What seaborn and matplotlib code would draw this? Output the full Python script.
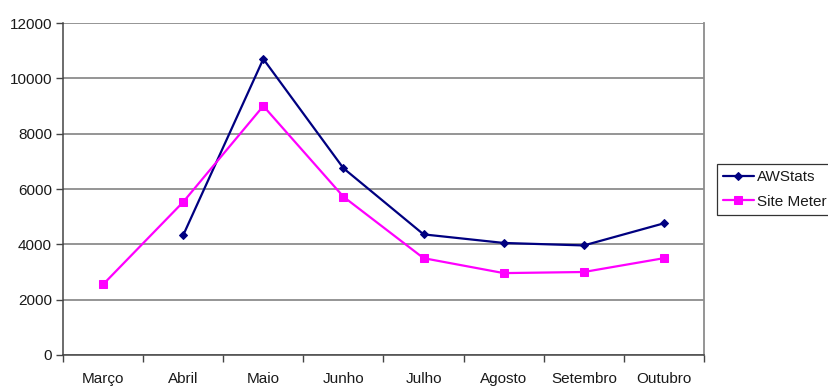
import matplotlib
matplotlib.use("Agg")
import matplotlib.pyplot as plt
from matplotlib.ticker import FixedLocator, NullFormatter
import seaborn as sns
import pandas as pd

months = ["Março", "Abril", "Maio", "Junho", "Julho", "Agosto", "Setembro", "Outubro"]
awstats = [None, 4330, 10700, 6750, 4360, 4050, 3960, 4760]
site_meter = [2550, 5530, 9000, 5720, 3500, 2960, 3000, 3500]
y_ticks = [0, 2000, 4000, 6000, 8000, 10000, 12000]

sns.set_theme(style="white")
plt.rcParams["font.family"] = ["Liberation Sans", "DejaVu Sans"]

df = pd.DataFrame({
    "mes": months * 2,
    "x": list(range(len(months))) * 2,
    "visitas": awstats + site_meter,
    "serie": ["AWStats"] * len(months) + ["Site Meter"] * len(months),
}).dropna()

fig = plt.figure(figsize=(8.29, 3.86), dpi=100)
ax = fig.add_axes([63 / 829, (386 - 355) / 386, 641 / 829, 332 / 386])

palette = {"AWStats": "#000080", "Site Meter": "#FF00FF"}
markers = {"AWStats": "D", "Site Meter": "s"}
sizes = {"AWStats": 4.5, "Site Meter": 5.3}
for name, grp in df.groupby("serie", sort=False):
    sns.lineplot(data=grp, x="x", y="visitas", ax=ax, color=palette[name],
                 marker=markers[name], markersize=sizes[name],
                 markeredgecolor=palette[name], linewidth=1.6, label=name)

ax.set_xlim(-0.5, len(months) - 0.5)
ax.set_ylim(0, 12000)
ax.set_xlabel("")
ax.set_ylabel("")

ax.set_yticks(y_ticks)
ax.set_yticklabels([str(v) for v in y_ticks], fontsize=11, color="#1a1a1a")
ax.yaxis.grid(True, color="#8c8c8c", linewidth=1.3)
ax.set_axisbelow(True)

ax.set_xticks(range(len(months)))
ax.set_xticklabels(months, fontsize=11, color="#1a1a1a", va="baseline")
ax.xaxis.set_minor_locator(FixedLocator([i - 0.5 for i in range(len(months) + 1)]))
ax.xaxis.set_minor_formatter(NullFormatter())
ax.tick_params(axis="x", which="major", length=0, pad=20.5)
ax.tick_params(axis="x", which="minor", length=5, width=1, color="#444444", bottom=True)
ax.tick_params(axis="y", length=5, width=1, color="#444444", left=True, pad=3)

for side in ["left", "bottom"]:
    ax.spines[side].set_color("#444444")
    ax.spines[side].set_linewidth(1.1)
ax.spines["right"].set_color("#8c8c8c")
ax.spines["right"].set_linewidth(1.3)
ax.spines["top"].set_visible(False)

leg = ax.legend(loc="upper left", bbox_to_anchor=(717 / 829, (386 - 164) / 386),
                bbox_transform=fig.transFigure, frameon=True,
                fancybox=False, edgecolor="#000000", fontsize=11,
                handlelength=2.0, handletextpad=0.2, borderpad=0.4,
                labelspacing=0.7, borderaxespad=0)
leg.get_frame().set_linewidth(0.9)
for txt in leg.get_texts():
    txt.set_color("#1a1a1a")

fig.savefig("out.png", dpi=100)
